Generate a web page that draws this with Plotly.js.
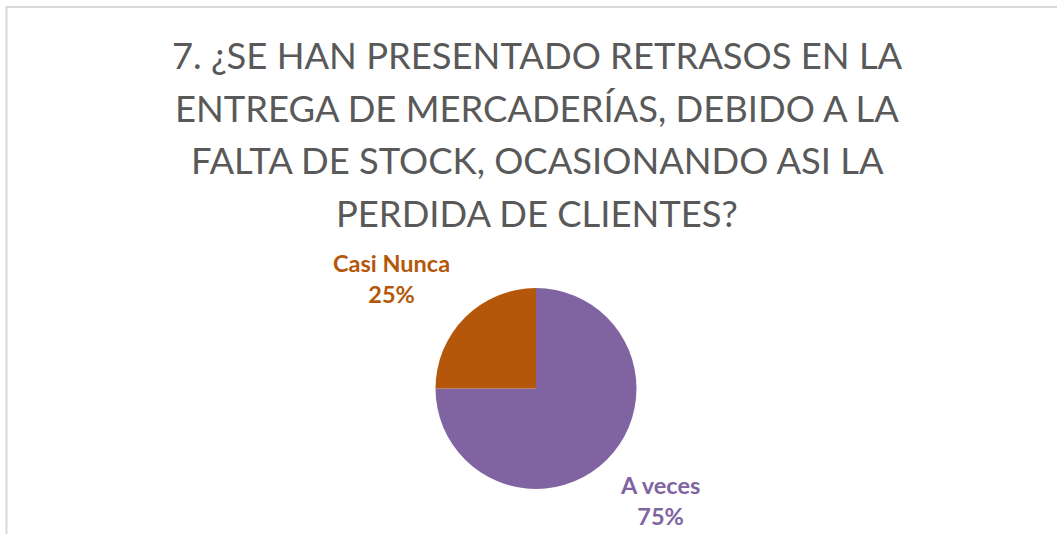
<!DOCTYPE html>
<html>
<head>
<meta charset="utf-8">
<script src="https://cdn.plot.ly/plotly-3.0.1.min.js"></script>
<style>html,body{margin:0;padding:0;background:#fff;}#chart{width:1057px;height:534px;}</style>
</head>
<body>
<div id="chart"></div>
<script>
const titleLines = [
  "7. ¿SE HAN PRESENTADO RETRASOS EN LA",
  "ENTREGA DE MERCADERÍAS, DEBIDO A LA",
  "FALTA DE STOCK, OCASIONANDO ASI LA",
  "PERDIDA DE CLIENTES?"
];
const labels = ["A veces", "Casi Nunca"];
const values = [75, 25];
const colors = ["#8064A2", "#B4570A"];

const W = 1057, H = 534;
const px = x => x / W;
const py = y => 1 - y / H;

const total = values.reduce((a, b) => a + b, 0);
const titleY = [55, 107.5, 160, 212.5];
const labelPos = [[660, 500], [391, 278]];

const annotations = [];
titleLines.forEach((t, i) => {
  annotations.push({
    text: t, xref: "paper", yref: "paper", x: px(537), y: py(titleY[i]),
    xanchor: "center", yanchor: "middle", showarrow: false,
    font: {family: "Lato, 'Open Sans', sans-serif", size: 36.4, color: "#595959"}
  });
});
labels.forEach((l, i) => {
  annotations.push({
    text: "<b>" + l + "<br>" + Math.round(values[i] / total * 100) + "%</b>",
    xref: "paper", yref: "paper", x: px(labelPos[i][0]), y: py(labelPos[i][1]),
    xanchor: "center", yanchor: "middle", showarrow: false, align: "center",
    font: {family: "Lato, 'Open Sans', sans-serif", size: 23.5, color: colors[i]}
  });
});

const data = [{
  type: "pie",
  labels: labels,
  values: values,
  sort: false,
  direction: "clockwise",
  rotation: 0,
  textinfo: "none",
  hoverinfo: "label+percent",
  marker: {colors: colors, line: {color: "#ffffff", width: 0}},
  domain: {x: [px(435.5), px(636.5)], y: [py(489), py(288)]},
  showlegend: false
}];

const layout = {
  width: W, height: H,
  margin: {l: 0, r: 0, t: 0, b: 0},
  paper_bgcolor: "#ffffff",
  showlegend: false,
  annotations: annotations,
  shapes: [
    {type: "line", xref: "paper", yref: "paper", x0: px(6.5), x1: px(6.5), y0: 0, y1: py(6.5), line: {color: "#D9D9D9", width: 2}},
    {type: "line", xref: "paper", yref: "paper", x0: px(5.5), x1: 1, y0: py(7), y1: py(7), line: {color: "#D9D9D9", width: 2}}
  ]
};

Plotly.newPlot("chart", data, layout, {displayModeBar: false, staticPlot: true});
</script>
</body>
</html>
